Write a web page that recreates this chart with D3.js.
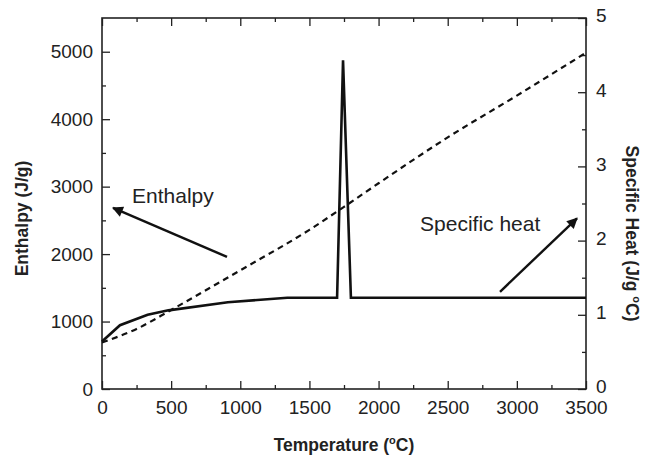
<!DOCTYPE html>
<html>
<head>
<meta charset="utf-8">
<script src="https://cdn.jsdelivr.net/npm/d3@7"></script>
<style>
  body { margin: 0; background: #fff; }
  svg { font-family: "Liberation Sans", Arial, sans-serif; }
  .tick line { stroke: #222; stroke-width: 1.3; }
  .tick text { font-size: 19px; fill: #222; }
  .title { font-size: 17.5px; font-weight: bold; fill: #222; }
  .note { font-size: 21px; fill: #222; }
</style>
</head>
<body>
<svg width="648" height="456"></svg>
<script>
// temperature (C) vs enthalpy (J/g), dashed curve, left axis
var enthalpyT = [0, 250, 500, 1000, 1500, 1750, 2000, 2500, 3000, 3500];
var enthalpyH = [690, 890, 1172, 1760, 2360, 2700, 3050, 3730, 4350, 4985];

// temperature (C) vs specific heat (J/g C), solid curve, right axis
var heatT = [0, 130, 330, 480, 910, 1340, 1700, 1743, 1800, 3500];
var heatCp = [0.64, 0.86, 1.0, 1.06, 1.17, 1.23, 1.23, 4.43, 1.23, 1.23];

var xTicks = [0, 500, 1000, 1500, 2000, 2500, 3000, 3500];
var xMinor = [250, 750, 1250, 1750, 2250, 2750, 3250];
var hTicks = [0, 1000, 2000, 3000, 4000, 5000];
var hMinor = [500, 1500, 2500, 3500, 4500];
var cpTicks = [0, 1, 2, 3, 4, 5];
var cpMinor = [0.5, 1.5, 2.5, 3.5, 4.5];

var margin = {top: 18, right: 62, bottom: 67, left: 102},
    width = 648 - margin.left - margin.right,
    height = 456 - margin.top - margin.bottom;

var xScale = d3.scaleLinear().domain([0, 3500]).range([0, width]),
    hScale = d3.scaleLinear().domain([0, 5500]).range([height, 0]),
    cpScale = d3.scaleLinear().domain([0, 5]).range([height, 0]);

var svg = d3.select("svg")
  .append("g")
    .attr("transform", "translate(" + margin.left + "," + margin.top + ")");

function noDomain(g) { g.select(".domain").remove(); }

// bottom axis
svg.append("g")
    .attr("transform", "translate(0," + height + ")")
    .call(d3.axisBottom(xScale).tickValues(xTicks).tickSize(-8).tickPadding(12).tickFormat(d3.format("d")))
    .call(noDomain)
    .selectAll("text").attr("font-family", null).attr("font-size", null);
svg.append("g")
    .attr("transform", "translate(0," + height + ")")
    .call(d3.axisBottom(xScale).tickValues(xMinor).tickSize(-4).tickFormat(""))
    .call(noDomain);

// top axis
svg.append("g")
    .call(d3.axisTop(xScale).tickValues(xTicks).tickSize(-8).tickFormat(""))
    .call(noDomain);
svg.append("g")
    .call(d3.axisTop(xScale).tickValues(xMinor).tickSize(-4).tickFormat(""))
    .call(noDomain);

// left axis
svg.append("g")
    .call(d3.axisLeft(hScale).tickValues(hTicks).tickSize(-8).tickPadding(9).tickFormat(d3.format("d")))
    .call(noDomain)
    .selectAll("text").attr("font-family", null).attr("font-size", null);
svg.append("g")
    .call(d3.axisLeft(hScale).tickValues(hMinor).tickSize(-4).tickFormat(""))
    .call(noDomain);

// right axis
svg.append("g")
    .attr("transform", "translate(" + width + ",0)")
    .call(d3.axisRight(cpScale).tickValues(cpTicks).tickSize(-8).tickPadding(10).tickFormat(d3.format("d")))
    .call(noDomain)
    .selectAll("text").attr("font-family", null).attr("font-size", null).attr("dy", "0.2em");
svg.append("g")
    .attr("transform", "translate(" + width + ",0)")
    .call(d3.axisRight(cpScale).tickValues(cpMinor).tickSize(-4).tickFormat(""))
    .call(noDomain);

// frame
svg.append("rect")
    .attr("width", width)
    .attr("height", height)
    .attr("fill", "none")
    .attr("stroke", "#222")
    .attr("stroke-width", 1.6);

// curves
var hLine = d3.line()
    .x(function(d, i) { return xScale(enthalpyT[i]); })
    .y(function(d) { return hScale(d); })
    .curve(d3.curveMonotoneX);
svg.append("path")
    .datum(enthalpyH)
    .attr("d", hLine)
    .attr("fill", "none")
    .attr("stroke", "#111")
    .attr("stroke-width", 2.2)
    .attr("stroke-dasharray", "6,4.5");

var cpLine = d3.line()
    .x(function(d, i) { return xScale(heatT[i]); })
    .y(function(d) { return cpScale(d); });
svg.append("path")
    .datum(heatCp)
    .attr("d", cpLine)
    .attr("fill", "none")
    .attr("stroke", "#111")
    .attr("stroke-width", 2.6)
    .attr("stroke-linejoin", "miter");

// annotations: arrows in data units
svg.append("defs").append("marker")
    .attr("id", "head")
    .attr("viewBox", "0 0 10 10")
    .attr("refX", 9).attr("refY", 5)
    .attr("markerWidth", 5.5).attr("markerHeight", 4.5)
    .attr("markerUnits", "strokeWidth")
    .attr("orient", "auto")
  .append("path")
    .attr("d", "M0,0 L10,5 L0,10 z")
    .attr("fill", "#111");

svg.append("line")
    .attr("x1", xScale(904)).attr("y1", hScale(1958))
    .attr("x2", xScale(80)).attr("y2", hScale(2685))
    .attr("stroke", "#111").attr("stroke-width", 2.4)
    .attr("marker-end", "url(#head)");

svg.append("line")
    .attr("x1", xScale(2878)).attr("y1", cpScale(1.31))
    .attr("x2", xScale(3435)).attr("y2", cpScale(2.30))
    .attr("stroke", "#111").attr("stroke-width", 2.4)
    .attr("marker-end", "url(#head)");

svg.append("text")
    .attr("class", "note")
    .attr("x", xScale(217)).attr("y", hScale(2760))
    .text("Enthalpy");

svg.append("text")
    .attr("class", "note")
    .attr("x", xScale(2300)).attr("y", cpScale(2.13))
    .text("Specific heat");

// axis titles
var xt = svg.append("text")
    .attr("class", "title")
    .attr("x", width / 2)
    .attr("y", height + 62)
    .attr("text-anchor", "middle");
xt.append("tspan").text("Temperature (");
xt.append("tspan").attr("dy", -7).attr("font-size", "11px").text("o");
xt.append("tspan").attr("dy", 7).text("C)");

svg.append("text")
    .attr("class", "title")
    .attr("transform", "translate(" + (-74) + "," + (height / 2 + 15) + ") rotate(-90)")
    .attr("text-anchor", "middle")
    .text("Enthalpy (J/g)");

var yt = svg.append("text")
    .attr("class", "title")
    .attr("transform", "translate(" + (width + 40) + "," + (height / 2 + 30) + ") rotate(90)")
    .attr("text-anchor", "middle");
yt.append("tspan").text("Specific Heat (J/g ");
yt.append("tspan").attr("dy", -7).attr("font-size", "11px").text("o");
yt.append("tspan").attr("dy", 7).text("C)");
</script>
</body>
</html>
